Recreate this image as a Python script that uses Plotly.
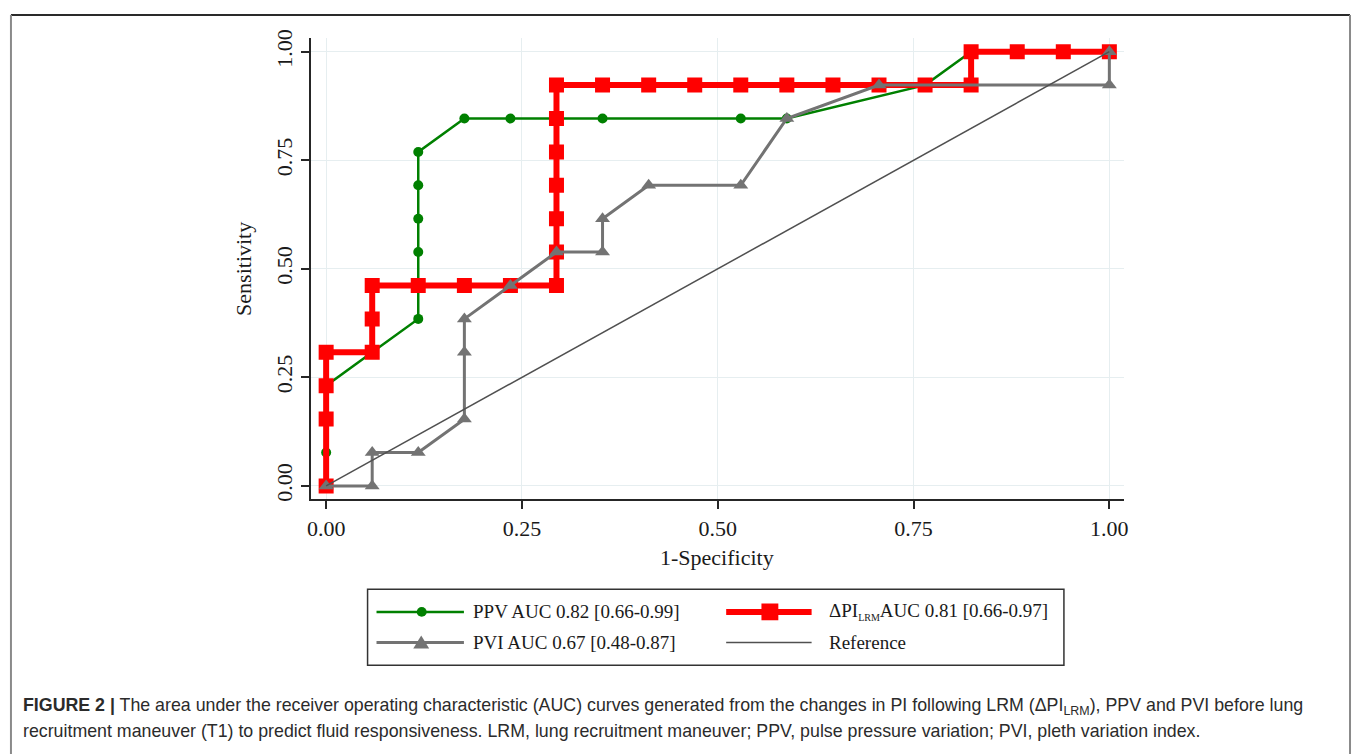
import plotly.graph_objects as go

# ROC curves: 1-specificity (x) vs sensitivity (y)
ppv_fpr = [0, 0, 0, 0, 0.0588, 0.1176, 0.1176, 0.1176, 0.1176, 0.1176, 0.1176,
           0.1765, 0.2353, 0.2941, 0.3529, 0.5294, 0.5882, 0.7647, 0.8235, 0.8824,
           0.9412, 1.0]
ppv_tpr = [0, 0.0769, 0.1538, 0.2308, 0.3077, 0.3846, 0.4615, 0.5385, 0.6154,
           0.6923, 0.7692, 0.8462, 0.8462, 0.8462, 0.8462, 0.8462, 0.8462, 0.9231,
           1.0, 1.0, 1.0, 1.0]

dpi_fpr = [0, 0, 0, 0, 0.0588, 0.0588, 0.0588, 0.1176, 0.1765, 0.2353, 0.2941,
           0.2941, 0.2941, 0.2941, 0.2941, 0.2941, 0.2941, 0.3529, 0.4118, 0.4706,
           0.5294, 0.5882, 0.6471, 0.7059, 0.7647, 0.8235, 0.8235, 0.8824, 0.9412,
           1.0]
dpi_tpr = [0, 0.1538, 0.2308, 0.3077, 0.3077, 0.3846, 0.4615, 0.4615, 0.4615,
           0.4615, 0.4615, 0.5385, 0.6154, 0.6923, 0.7692, 0.8462, 0.9231, 0.9231,
           0.9231, 0.9231, 0.9231, 0.9231, 0.9231, 0.9231, 0.9231, 0.9231, 1.0,
           1.0, 1.0, 1.0]

pvi_fpr = [0, 0.0588, 0.0588, 0.1176, 0.1765, 0.1765, 0.1765, 0.2353, 0.2941,
           0.3529, 0.3529, 0.4118, 0.5294, 0.5882, 0.7059, 1.0, 1.0]
pvi_tpr = [0, 0, 0.0769, 0.0769, 0.1538, 0.3077, 0.3846, 0.4615, 0.5385, 0.5385,
           0.6154, 0.6923, 0.6923, 0.8462, 0.9231, 0.9231, 1.0]

ref_x = [0, 1]
ref_y = [0, 1]

tick_vals = [0, 0.25, 0.5, 0.75, 1.0]
tick_text = ["0.00", "0.25", "0.50", "0.75", "1.00"]

SMALL_SUB = "<sub><span style='font-size:10px'>LRM</span></sub>"
legend_labels = [
    "PPV AUC 0.82 [0.66-0.99]",
    "ΔPI" + SMALL_SUB + "AUC 0.81 [0.66-0.97]",
    "PVI AUC 0.67 [0.48-0.87]",
    "Reference",
]

caption_lines = [
    "<b>FIGURE 2 |</b> The area under the receiver operating characteristic (AUC) curves "
    "generated from the changes in PI following LRM (ΔPI<sub>LRM</sub>), PPV and PVI before lung",
    "recruitment maneuver (T1) to predict fluid responsiveness. LRM, lung recruitment "
    "maneuver; PPV, pulse pressure variation; PVI, pleth variation index.",
]

W, H = 1357, 754
GREEN, RED, GRAY, REFC = "#008000", "#ff0000", "#737373", "#505050"
SERIF = "Liberation Serif, Times New Roman, serif"
SANS = "Liberation Sans, Arial, sans-serif"


def px(x):
    """Pixel column -> paper x."""
    return x / W


def py(y):
    """Pixel row -> paper y."""
    return 1 - y / H


fig = go.Figure()
fig.add_trace(go.Scatter(x=ppv_fpr, y=ppv_tpr, mode="lines+markers",
                         line=dict(color=GREEN, width=2.5),
                         marker=dict(symbol="circle", size=10, color=GREEN)))
fig.add_trace(go.Scatter(x=dpi_fpr, y=dpi_tpr, mode="lines+markers",
                         line=dict(color=RED, width=6),
                         marker=dict(symbol="square", size=15, color=RED)))
fig.add_trace(go.Scatter(x=pvi_fpr, y=pvi_tpr, mode="lines+markers",
                         line=dict(color=GRAY, width=3),
                         marker=dict(symbol="triangle-up", size=13, color=GRAY)))
fig.add_trace(go.Scatter(x=ref_x, y=ref_y, mode="lines",
                         line=dict(color=REFC, width=1.5)))

axis_common = dict(
    tickvals=tick_vals, ticktext=tick_text,
    showgrid=True, gridcolor="#e6eef0", gridwidth=1.3,
    zeroline=False,
    showline=True, linecolor="#262626", linewidth=1.8,
    ticks="outside", ticklen=8, tickwidth=1.5, tickcolor="#262626",
    tickfont=dict(family=SERIF, size=22, color="#1a1a1a"),
)

fig.update_layout(
    width=W, height=H,
    margin=dict(l=0, r=0, t=0, b=0),
    paper_bgcolor="white", plot_bgcolor="white",
    showlegend=False,
    xaxis=dict(domain=[px(309), px(1127)], range=[-0.0194, 1.0181],
               **axis_common),
    yaxis=dict(domain=[py(498), py(30)], range=[-0.0311, 1.0325],
               tickangle=-90, **axis_common),
)

shapes = []
annotations = []

# axis titles
annotations.append(dict(x=px(718), y=py(557), xref="paper", yref="paper",
                        text="1-Specificity", showarrow=False,
                        font=dict(family=SERIF, size=22, color="#1a1a1a"),
                        xanchor="center", yanchor="middle"))
annotations.append(dict(x=px(241), y=py(264), xref="paper", yref="paper",
                        text="Sensitivity", showarrow=False, textangle=-90,
                        font=dict(family=SERIF, size=22, color="#1a1a1a"),
                        xanchor="center", yanchor="middle"))

# legend box
shapes.append(dict(type="rect", xref="paper", yref="paper",
                   x0=px(366), x1=px(1067), y0=py(666), y1=py(589),
                   line=dict(color="#333333", width=1.5)))


def legend_line(x0, x1, y, color, width):
    shapes.append(dict(type="line", xref="paper", yref="paper",
                       x0=px(x0), x1=px(x1), y0=py(y), y1=py(y),
                       line=dict(color=color, width=width)))


# PPV sample
legend_line(375, 463, 612, GREEN, 2.5)
shapes.append(dict(type="circle", xref="paper", yref="paper",
                   x0=px(415.5), x1=px(425.5), y0=py(617), y1=py(607),
                   fillcolor=GREEN, line=dict(width=0)))
# delta PI sample
legend_line(727, 813, 612, RED, 6)
shapes.append(dict(type="rect", xref="paper", yref="paper",
                   x0=px(762.5), x1=px(779.5), y0=py(620.5), y1=py(603.5),
                   fillcolor=RED, line=dict(width=0)))
# PVI sample
legend_line(375, 463, 643, GRAY, 3)
tri = "M {:.5f} {:.5f} L {:.5f} {:.5f} L {:.5f} {:.5f} Z".format(
    px(412), py(649), px(428), py(649), px(420), py(636))
shapes.append(dict(type="path", xref="paper", yref="paper", path=tri,
                   fillcolor=GRAY, line=dict(width=0)))
# Reference sample
legend_line(727, 813, 643, REFC, 1.5)

legend_pos = [(470, 612), (828, 612), (470, 643), (828, 643)]
for (lx, ly), label in zip(legend_pos, legend_labels):
    annotations.append(dict(x=px(lx), y=py(ly), xref="paper", yref="paper",
                            text=label, showarrow=False,
                            font=dict(family=SERIF, size=19, color="#1a1a1a"),
                            xanchor="left", yanchor="middle"))

# caption
for cy, line in zip([708, 733], caption_lines):
    annotations.append(dict(x=px(17), y=py(cy), xref="paper", yref="paper",
                            text=line, showarrow=False,
                            font=dict(family=SANS, size=17.8, color="#2b2b2b"),
                            xanchor="left", yanchor="middle"))

# figure frame (top dark rule, lighter side rules)
shapes.append(dict(type="line", xref="paper", yref="paper",
                   x0=px(7), x1=px(1355), y0=py(7), y1=py(7),
                   line=dict(color="#2a2a2a", width=2)))
shapes.append(dict(type="line", xref="paper", yref="paper",
                   x0=px(7), x1=px(7), y0=py(7), y1=py(760),
                   line=dict(color="#8a8a8a", width=2)))
shapes.append(dict(type="line", xref="paper", yref="paper",
                   x0=px(1355), x1=px(1355), y0=py(7), y1=py(760),
                   line=dict(color="#8a8a8a", width=2)))

fig.update_layout(shapes=shapes, annotations=annotations)

fig.write_html("out.html")
